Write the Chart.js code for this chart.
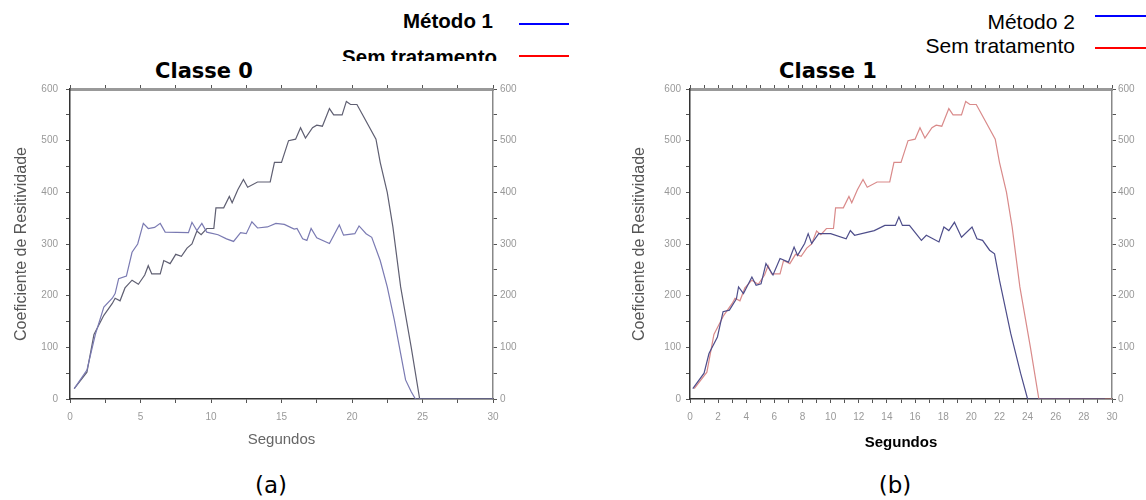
<!DOCTYPE html>
<html>
<head>
<meta charset="utf-8">
<script src="https://cdn.jsdelivr.net/npm/chart.js@4.4.0/dist/chart.umd.min.js"></script>
<style>
  body { margin: 0; background: #fff; width: 1146px; height: 500px; position: relative; overflow: hidden;
         font-family: "Liberation Sans", Arial, sans-serif; }
  .abs { position: absolute; white-space: nowrap; line-height: 1; }
  .leg-line { position: absolute; height: 2px; }
  .titulo { font-family: "DejaVu Sans", sans-serif; font-weight: bold; font-size: 21px; text-align: center; width: 200px; }
  .rotulo { font-family: "DejaVu Sans", sans-serif; font-size: 23px; text-align: center; width: 100px; }
  canvas { position: absolute; }
</style>
</head>
<body>

<!-- legenda (a) -->
<div class="abs" style="right:653px; top:10.6px; font-weight:bold; font-size:20.5px;">Método 1</div>
<div class="leg-line" style="left:519px; width:50px; top:23px; background:#0000ff;"></div>
<div class="abs" style="right:649px; top:0; height:61px; overflow:hidden; box-sizing:border-box; padding-top:47.4px; font-weight:bold; font-size:20.5px;">Sem tratamento</div>
<div class="leg-line" style="left:519px; width:50px; top:55px; background:#ff0000;"></div>

<!-- legenda (b) -->
<div class="abs" style="right:71px; top:11.2px; font-size:21px;">Método 2</div>
<div class="leg-line" style="left:1095px; width:51px; top:15px; background:#0000ff;"></div>
<div class="abs" style="right:71px; top:35.2px; font-size:21px;">Sem tratamento</div>
<div class="leg-line" style="left:1095px; width:51px; top:47px; background:#ff0000;"></div>

<div class="abs titulo" style="left:104px; top:61px;">Classe 0</div>
<div class="abs titulo" style="left:728px; top:61px;">Classe 1</div>

<canvas id="graficoA" width="533" height="380" style="left:0; top:80px; width:533px; height:380px;"></canvas>
<canvas id="graficoB" width="546" height="380" style="left:600px; top:80px; width:546px; height:380px;"></canvas>

<div class="abs rotulo" style="left:221px; top:474px;">(a)</div>
<div class="abs rotulo" style="left:845px; top:474px;">(b)</div>

<script>
// curva sem tratamento (igual nos dois gráficos)
const semTratamentoTempo = [0.3, 1.2, 1.7, 2.4, 3.0, 3.2, 3.55, 3.9, 4.4, 4.85, 5.3, 5.55, 5.8, 6.4, 6.65, 7.1, 7.5, 7.9, 8.3, 8.65,
  9.0, 9.3, 9.7, 10.2, 10.35, 10.9, 11.3, 11.5, 11.9, 12.3, 12.6, 13.3, 14.2, 14.5, 15.0, 15.5, 16.0, 16.35, 16.7, 17.2,
  17.5, 17.9, 18.4, 18.7, 19.3, 19.6, 19.9, 20.35, 20.75, 21.7, 22.0, 22.5, 22.9, 23.45, 24.2, 24.8, 30];
const semTratamentoValores = [20, 52, 125, 162, 185, 195, 190, 215, 230, 222, 240, 258, 242, 242, 268, 262, 280, 276, 292, 300,
  325, 318, 330, 330, 370, 370, 392, 380, 405, 425, 410, 420, 420, 458, 458, 500, 503, 525, 505, 525,
  530, 528, 562, 550, 550, 576, 570, 570, 550, 503, 458, 400, 333, 217, 100, 0, 0];

// Classe 0 - Método 1
const metodo1Tempo = [0.3, 1.2, 1.8, 2.4, 3.0, 3.2, 3.45, 4.0, 4.4, 4.8, 5.2, 5.55, 6.0, 6.4, 6.75, 8.4, 8.65, 9.0, 9.35, 9.7,
  10.5, 11.1, 11.6, 12.1, 12.5, 12.9, 13.3, 14.0, 14.6, 15.2, 15.9, 16.1, 16.5, 16.8, 17.1, 17.5, 18.4, 19.1, 19.4, 20.2,
  20.5, 21.0, 21.4, 22.0, 22.5, 23.0, 23.45, 23.8, 24.2, 24.5, 30];
const metodo1Valores = [20, 56, 125, 178, 195, 204, 233, 238, 284, 300, 340, 330, 332, 340, 323, 322, 342, 326, 340, 323,
  318, 310, 305, 322, 320, 343, 331, 333, 340, 338, 329, 330, 310, 307, 330, 312, 301, 337, 317, 320,
  335, 320, 313, 268, 217, 153, 88, 37, 14, 0, 0];

// Classe 1 - Método 2
const metodo2Tempo = [0.2, 1.0, 1.35, 1.95, 2.35, 2.8, 3.3, 3.45, 3.8, 4.4, 4.7, 5.05, 5.4, 5.9, 6.4, 7.0, 7.4, 7.65, 8.15, 8.4,
  8.65, 9.15, 10.0, 11.1, 11.4, 11.7, 13.1, 13.85, 14.6, 14.85, 15.1, 15.6, 16.45, 16.8, 17.7, 18.05, 18.4, 18.8, 19.3, 20.05,
  20.4, 20.8, 21.3, 21.65, 22.0, 22.8, 23.5, 24.0, 29.5];
const metodo2Valores = [20, 50, 88, 120, 169, 172, 194, 217, 204, 236, 220, 223, 262, 240, 272, 265, 294, 278, 301, 320,
  301, 320, 320, 310, 326, 317, 326, 336, 336, 352, 336, 336, 307, 317, 304, 333, 326, 342, 313, 333,
  310, 307, 288, 281, 230, 127, 50, 0, 0];

const yTitulo = 'Coeficiente de Resitividade';
const xTitulo = 'Segundos';

function pontos(xs, ys) {
  return xs.map((x, i) => ({ x: x, y: ys[i] }));
}

function serie(label, xs, ys, cor) {
  return {
    label: label,
    data: pontos(xs, ys),
    borderColor: cor,
    borderWidth: 1.2,
    pointRadius: 0,
    tension: 0,
    fill: false
  };
}

function escalas(c) {
  const fonteTick = { family: 'Liberation Sans', size: 10 };
  // altura de linha reduzida para que o padding dos rótulos não empurre a área do gráfico para baixo
  const fonteTickY = { family: 'Liberation Sans', size: 10, lineHeight: 2 * (9 - c.yPad) / 10 };
  const grade = { drawOnChartArea: false, drawTicks: true, tickLength: 4, tickColor: '#555' };
  return {
    x: {
      type: 'linear', position: 'bottom', min: 0, max: 30,
      afterFit: s => { s.height = c.xAltura; },
      border: { color: '#333', width: 1.5 },
      grid: grade,
      ticks: {
        stepSize: c.xPasso, autoSkip: false, maxRotation: 0, padding: 8, color: '#999', font: fonteTick,
        callback: v => (v % c.xRotulo === 0 ? v : '')
      },
      title: { display: true, text: xTitulo, color: c.xTituloCor, padding: { top: 0, bottom: 0 },
               font: { family: 'Liberation Sans', size: 15, weight: c.xTituloPeso } }
    },
    x2: {
      type: 'linear', position: 'top', min: 0, max: 30,
      afterFit: s => { s.height = 5; },
      border: { color: '#999', width: 3 },
      grid: grade,
      ticks: { stepSize: c.xPasso, autoSkip: false, display: false }
    },
    y: {
      type: 'linear', position: 'left', min: 0, max: 600,
      afterFit: s => { s.width = c.yLargura; },
      border: { color: '#333', width: 1.5 },
      grid: grade,
      ticks: {
        stepSize: 50, autoSkip: false, padding: c.yPad, color: '#999', font: fonteTickY,
        callback: v => (v % 100 === 0 ? v : '')
      },
      title: { display: true, text: yTitulo, color: '#555', padding: { top: c.yTituloPad, bottom: 0 },
               font: { family: 'Liberation Sans', size: 16 } }
    },
    y2: {
      type: 'linear', position: 'right', min: 0, max: 600,
      afterFit: s => { s.width = c.y2Largura; },
      border: { color: '#888', width: 1.5 },
      grid: grade,
      ticks: {
        stepSize: 50, autoSkip: false, padding: c.y2Pad, color: '#999', font: fonteTick,
        callback: v => (v % 100 === 0 ? v : '')
      }
    }
  };
}

function grafico(id, datasets, c) {
  return new Chart(document.getElementById(id), {
    type: 'line',
    data: { datasets: datasets },
    options: {
      responsive: false,
      animation: false,
      devicePixelRatio: 1,
      layout: { padding: { top: 4, bottom: c.padBaixo, left: 0, right: 0 } },
      plugins: { legend: { display: false }, tooltip: { enabled: false } },
      scales: escalas(c)
    }
  });
}

grafico('graficoA', [
  serie('Método 1', metodo1Tempo, metodo1Valores, '#7a7ab2'),
  serie('Sem tratamento', semTratamentoTempo, semTratamentoValores, '#5f5f72')
], {
  xAltura: 50, padBaixo: 11, xPasso: 2.5, xRotulo: 5, xTituloCor: '#666', xTituloPeso: 'normal',
  yLargura: 70, yPad: 8, yTituloPad: 12, y2Largura: 40, y2Pad: 3
});

grafico('graficoB', [
  serie('Método 2', metodo2Tempo, metodo2Valores, '#4d4d8a'),
  serie('Sem tratamento', semTratamentoTempo, semTratamentoValores, '#d98a8a')
], {
  xAltura: 53, padBaixo: 8, xPasso: 1, xRotulo: 2, xTituloCor: '#000', xTituloPeso: 'bold',
  yLargura: 90, yPad: 5, yTituloPad: 30, y2Largura: 34, y2Pad: 2
});
</script>
</body>
</html>
